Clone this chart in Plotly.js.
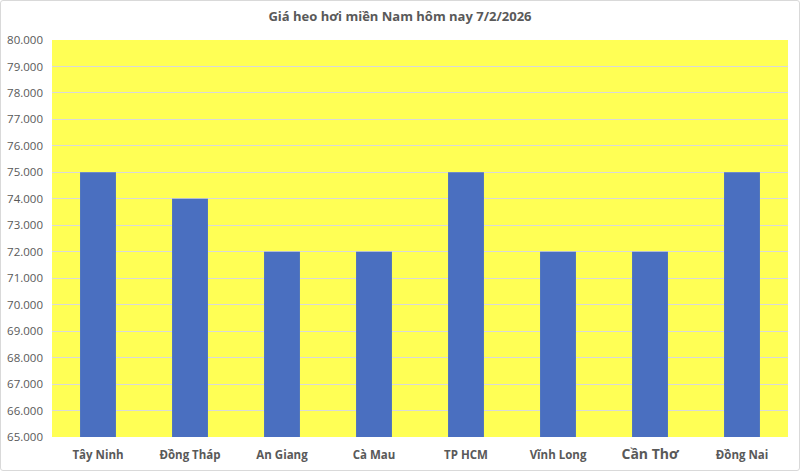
<!DOCTYPE html>
<html><head><meta charset="utf-8">
<script src="https://cdn.plot.ly/plotly-3.0.1.min.js"></script>
<style>html,body{margin:0;padding:0;background:#fff;}#chart{width:800px;height:471px;box-sizing:border-box;border:1px solid #d9d9d9;border-radius:3px;}</style>
</head><body><div id="chart"></div>
<script>
const categories = ["Tây Ninh","Đồng Tháp","An Giang","Cà Mau","TP HCM","Vĩnh Long","Cần Thơ","Đồng Nai"];
const tickLabels = ["Tây Ninh","Đồng Tháp","An Giang","Cà Mau","TP HCM","Vĩnh Long","<span style='font-size:14px'>Cần Thơ</span>","Đồng Nai"];
const prices = [75000,74000,72000,72000,75000,72000,72000,75000];
const yTicks = [65000,66000,67000,68000,69000,70000,71000,72000,73000,74000,75000,76000,77000,78000,79000,80000];

const fontFam = "Open Sans, Liberation Sans, sans-serif";
Plotly.newPlot('chart', [{
  type:'bar', x:categories, y:prices,
  marker:{color:'#4a6fc0'}, hoverinfo:'skip'
}], {
  width:798, height:469,
  margin:{l:51,r:11,t:39,b:33},
  paper_bgcolor:'rgba(0,0,0,0)', plot_bgcolor:'#ffff55',
  bargap:0.61,
  separators:',.',
  title:{text:'<b>Giá heo hơi miền Nam hôm nay 7/2/2026</b>', font:{family:fontFam,size:13,color:'#595959'}, x:0.5, xanchor:'center', y:0.968, yanchor:'middle'},
  xaxis:{tickmode:'array', tickvals:categories, ticktext:tickLabels.map(t=>'<b>'+t+'</b>'), tickfont:{family:fontFam,size:11.5,color:'#595959'}, showline:false, ticks:'', showgrid:false, ticklabelstandoff:9, fixedrange:true},
  yaxis:{range:[65000,80000], tickvals:yTicks, tickformat:',.0f', tickprefix:'<b>', ticksuffix:'</b>', tickfont:{family:fontFam,size:11.5,color:'#595959'}, gridcolor:'#d9d9d9', gridwidth:1, zeroline:false, showline:false, ticks:'', ticklabelstandoff:8, fixedrange:true},
  showlegend:false
}, {displayModeBar:false, staticPlot:true});
</script></body></html>
